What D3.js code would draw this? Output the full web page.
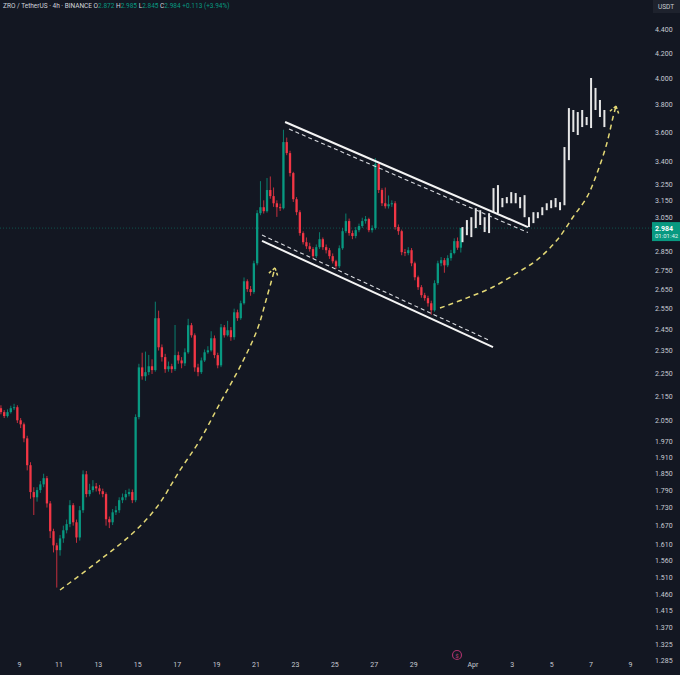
<!DOCTYPE html>
<html>
<head>
<meta charset="utf-8">
<script src="https://cdn.jsdelivr.net/npm/d3@7"></script>
<style>
  body { margin: 0; background: #131722; }
  svg { display: block; font-family: "Roboto", "Liberation Sans", sans-serif; }
</style>
</head>
<body>
<script>
// ZRO/USDT 4h candles, first candle Mar 8 00:00 UTC
var opens = [
  2.100,2.084,2.068,2.084,2.100,2.104,2.051,2.035,1.980,1.879,
  1.783,1.765,1.790,1.810,1.832,1.744,1.652,1.607,1.592,1.629,
  1.655,1.675,1.738,1.681,1.632,1.721,1.846,1.776,1.790,1.803,
  1.796,1.786,1.776,1.691,1.681,1.714,1.721,1.755,1.765,1.776,
  1.783,1.755,2.064,2.274,2.235,2.253,2.279,2.262,2.503,2.365,
  2.320,2.266,2.279,2.266,2.329,2.305,2.292,2.342,2.469,2.421,
  2.274,2.253,2.305,2.342,2.351,2.407,2.329,2.283,2.459,2.421,
  2.445,2.412,2.532,2.503,2.577,2.690,2.649,2.634,2.786,3.072,
  3.108,3.084,3.214,3.176,3.132,3.108,3.102,3.529,3.454,3.322,
  3.157,3.078,2.955,2.903,2.880,2.864,2.825,2.875,2.920,2.875,
  2.858,2.825,2.797,2.770,2.869,2.966,3.025,2.955,2.938,2.972,
  2.996,3.025,3.037,2.972,2.984,3.381,3.214,3.132,3.114,3.126,
  3.132,2.990,2.966,2.847,2.842,2.858,2.786,2.711,2.659,2.618,
  2.603,2.577,2.542,2.680,2.786,2.803,2.775,2.814,2.842,2.909,
  2.872
];
var highs = [
  2.112,2.092,2.095,2.110,2.118,2.112,2.060,2.042,1.990,1.890,
  1.800,1.800,1.822,1.848,1.840,1.752,1.660,1.615,1.640,1.670,
  1.690,1.755,1.745,1.690,1.735,1.860,1.858,1.812,1.825,1.815,
  1.808,1.795,1.782,1.700,1.725,1.735,1.765,1.778,1.790,1.795,
  1.792,2.075,2.290,2.340,2.345,2.330,2.310,2.585,2.540,2.378,
  2.335,2.300,2.290,2.470,2.345,2.320,2.360,2.500,2.480,2.430,
  2.290,2.318,2.355,2.370,2.440,2.420,2.340,2.475,2.470,2.490,
  2.460,2.550,2.545,2.590,2.710,2.700,2.665,2.800,3.090,3.270,
  3.150,3.290,3.300,3.230,3.150,3.130,3.615,3.560,3.470,3.330,
  3.170,3.090,2.965,2.930,2.900,2.875,2.890,2.960,2.930,2.890,
  2.870,2.840,2.805,2.885,2.985,3.070,3.040,2.970,2.990,3.010,
  3.045,3.055,3.045,3.000,3.420,3.395,3.225,3.230,3.180,3.150,
  3.145,3.005,2.975,2.865,2.875,2.870,2.795,2.720,2.670,2.630,
  2.615,2.590,2.695,2.800,2.820,2.815,2.830,2.860,2.925,2.930,
  2.985
];
var lows = [
  2.075,2.060,2.062,2.078,2.092,2.040,2.020,1.965,1.860,1.760,
  1.705,1.750,1.780,1.800,1.730,1.630,1.585,1.480,1.575,1.615,
  1.645,1.665,1.670,1.615,1.622,1.712,1.765,1.768,1.782,1.785,
  1.775,1.765,1.670,1.662,1.672,1.705,1.712,1.745,1.755,1.768,
  1.745,1.748,2.055,2.220,2.215,2.240,2.245,2.255,2.350,2.300,
  2.250,2.255,2.250,2.258,2.290,2.270,2.280,2.335,2.410,2.255,
  2.235,2.245,2.298,2.335,2.345,2.315,2.270,2.275,2.410,2.415,
  2.395,2.400,2.490,2.495,2.570,2.635,2.615,2.625,2.775,3.060,
  3.070,3.075,3.160,3.110,3.050,3.085,3.095,3.440,3.300,3.140,
  3.060,2.940,2.890,2.865,2.850,2.810,2.815,2.865,2.860,2.840,
  2.810,2.785,2.755,2.760,2.860,2.955,2.940,2.920,2.925,2.960,
  2.985,3.010,2.960,2.958,2.975,3.195,3.115,3.100,3.100,3.110,
  2.975,2.945,2.830,2.825,2.830,2.770,2.695,2.645,2.605,2.590,
  2.560,2.520,2.535,2.670,2.770,2.735,2.765,2.800,2.835,2.860,
  2.845
];
var closes = [
  2.084,2.068,2.084,2.100,2.104,2.051,2.035,1.980,1.879,1.783,
  1.765,1.790,1.810,1.832,1.744,1.652,1.607,1.592,1.629,1.655,
  1.675,1.738,1.681,1.632,1.721,1.846,1.776,1.790,1.803,1.796,
  1.786,1.776,1.691,1.681,1.714,1.721,1.755,1.765,1.776,1.783,
  1.755,2.064,2.274,2.235,2.253,2.279,2.262,2.503,2.365,2.320,
  2.266,2.279,2.266,2.329,2.305,2.292,2.342,2.469,2.421,2.274,
  2.253,2.305,2.342,2.351,2.407,2.329,2.283,2.459,2.421,2.445,
  2.412,2.532,2.503,2.577,2.690,2.649,2.634,2.786,3.072,3.108,
  3.084,3.214,3.176,3.132,3.108,3.102,3.529,3.454,3.322,3.157,
  3.078,2.955,2.903,2.880,2.864,2.825,2.875,2.920,2.875,2.858,
  2.825,2.797,2.770,2.869,2.966,3.025,2.955,2.938,2.972,2.996,
  3.025,3.037,2.972,2.984,3.381,3.214,3.132,3.114,3.126,3.132,
  2.990,2.966,2.847,2.842,2.858,2.786,2.711,2.659,2.618,2.603,
  2.577,2.542,2.680,2.786,2.803,2.775,2.814,2.842,2.909,2.872,
  2.984
];

// projected path (white bars pattern)
var projHigh = [2.990,3.031,3.048,3.102,3.090,3.048,3.072,3.226,3.245,3.164,3.170,3.201,3.195,3.170,3.182,3.048,3.078,3.078,3.108,3.132,3.151,3.164,3.139,3.495,3.771,3.757,3.742,3.757,3.706,3.999,3.922,3.831,3.757];
var projLow  = [2.903,2.943,2.932,2.984,3.002,2.961,2.955,3.078,3.072,3.108,3.132,3.132,3.132,3.102,3.048,2.990,3.013,3.042,3.060,3.090,3.102,3.108,3.090,3.120,3.407,3.599,3.578,3.634,3.648,3.627,3.757,3.706,3.634];

// drawings: [days after Mar 9, price]
var leftCurve  = [[2.08,1.473],[4.11,1.562],[5.78,1.646],[7.00,1.732],[8.17,1.861],[9.18,1.973],[10.20,2.121],[11.21,2.276],[12.08,2.446],[12.58,2.609],[12.99,2.761]];
var rightCurve = [[21.36,2.553],[22.73,2.604],[24.05,2.660],[25.27,2.734],[26.28,2.804],[27.30,2.915],[28.11,3.049],[28.82,3.171],[29.33,3.322],[29.83,3.523],[30.14,3.706],[30.29,3.786]];
var upperSolid = [[13.50,3.670],[25.82,2.990]];
var upperDash  = [[13.70,3.620],[25.82,2.958]];
var lowerSolid = [[12.33,2.910],[24.05,2.366]];
var lowerDash  = [[12.33,2.944],[23.80,2.400]];

var yTicks = [4.4,4.2,4.0,3.8,3.6,3.4,3.25,3.15,3.05,2.85,2.75,2.65,2.55,2.45,2.35,2.25,2.15,2.05,1.97,1.91,1.85,1.79,1.73,1.67,1.61,1.56,1.51,1.46,1.415,1.37,1.325,1.285];
var xTickDates = ["2025-03-09","2025-03-11","2025-03-13","2025-03-15","2025-03-17","2025-03-19","2025-03-21","2025-03-23","2025-03-25","2025-03-27","2025-03-29","2025-04-01","2025-04-03","2025-04-05","2025-04-07","2025-04-09"];
var xTickLabels = ["9","11","13","15","17","19","21","23","25","27","29","Apr","3","5","7","9"];

var lastPrice = 2.984;

(function(){
  var width = 680, height = 675;
  var HOUR = 3600e3, DAY = 864e5;
  var t0 = Date.UTC(2025, 2, 8);      // first candle
  var mar9 = Date.UTC(2025, 2, 9);
  var projStart = Date.UTC(2025, 2, 31, 12);
  var projStepHours = 5.4;

  var svg = d3.select("body").append("svg")
    .attr("width", width)
    .attr("height", height);

  svg.append("rect").attr("width", width).attr("height", height).attr("fill", "#131722");

  var x = d3.scaleUtc()
    .domain([new Date(mar9), new Date(Date.UTC(2025, 3, 9))])
    .range([19, 630]);

  var y = d3.scaleLog()
    .domain([1.285, 4.4])
    .range([660, 29]);

  var dayDate = function(d){ return new Date(mar9 + d * DAY); };
  var candleTime = function(i){ return new Date(t0 + (i * 4 + 2) * HOUR); };
  var bodyW = (x(new Date(t0 + 4 * HOUR)) - x(new Date(t0))) * 0.7;

  var plot = svg.append("g");

  // last price line
  plot.append("line")
    .attr("x1", 0).attr("x2", 652)
    .attr("y1", y(lastPrice)).attr("y2", y(lastPrice))
    .attr("stroke", "#089981")
    .attr("stroke-opacity", 0.45)
    .attr("stroke-dasharray", "1,2");

  var candles = d3.range(closes.length).map(function(i){
    return {t: candleTime(i), o: opens[i], h: highs[i], l: lows[i], c: closes[i]};
  });

  var color = function(d){ return d.c >= d.o ? "#089981" : "#f23645"; };

  var cg = plot.selectAll(".candle")
    .data(candles)
    .enter().append("g")
    .attr("class", "candle");

  cg.append("line")
    .attr("x1", function(d){ return x(d.t); })
    .attr("x2", function(d){ return x(d.t); })
    .attr("y1", function(d){ return y(d.h); })
    .attr("y2", function(d){ return y(d.l); })
    .attr("stroke", color)
    .attr("stroke-width", 0.8);

  cg.append("rect")
    .attr("x", function(d){ return x(d.t) - bodyW / 2; })
    .attr("width", bodyW)
    .attr("y", function(d){ return y(Math.max(d.o, d.c)); })
    .attr("height", function(d){ return Math.max(1, Math.abs(y(d.o) - y(d.c))); })
    .attr("fill", color);

  // projected bars
  plot.selectAll(".proj")
    .data(projHigh.map(function(h, i){ return {t: new Date(projStart + i * projStepHours * HOUR), h: h, l: projLow[i]}; }))
    .enter().append("rect")
    .attr("class", "proj")
    .attr("x", function(d){ return x(d.t) - 1; })
    .attr("width", 2)
    .attr("y", function(d){ return y(d.h); })
    .attr("height", function(d){ return y(d.l) - y(d.h); })
    .attr("fill", "#e6e6e6");

  var line = d3.line()
    .x(function(d){ return x(dayDate(d[0])); })
    .y(function(d){ return y(d[1]); });

  // channel
  [[upperSolid, false], [lowerSolid, false], [upperDash, true], [lowerDash, true]].forEach(function(s){
    plot.append("path")
      .datum(s[0])
      .attr("d", line)
      .attr("fill", "none")
      .attr("stroke", s[1] ? "#d8dadf" : "#f4f4f4")
      .attr("stroke-width", s[1] ? 1.1 : 2)
      .attr("stroke-dasharray", s[1] ? "4,3" : null);
  });

  // dashed yellow arrows
  var curve = d3.line()
    .curve(d3.curveCatmullRom)
    .x(function(d){ return x(dayDate(d[0])); })
    .y(function(d){ return y(d[1]); });

  [leftCurve, rightCurve].forEach(function(pts){
    plot.append("path")
      .datum(pts)
      .attr("d", curve)
      .attr("fill", "none")
      .attr("stroke", "#e3d876")
      .attr("stroke-width", 1.5)
      .attr("stroke-dasharray", "5,4");

    var a = pts[pts.length - 2], b = pts[pts.length - 1];
    var ax = x(dayDate(a[0])), ay = y(a[1]), bx = x(dayDate(b[0])), by = y(b[1]);
    var ang = Math.atan2(by - ay, bx - ax) + Math.PI;
    [-0.6, 0.6].forEach(function(k){
      plot.append("line")
        .attr("x1", bx).attr("y1", by)
        .attr("x2", bx + 8 * Math.cos(ang + k))
        .attr("y2", by + 8 * Math.sin(ang + k))
        .attr("stroke", "#e3d876")
        .attr("stroke-width", 1.5)
        .attr("stroke-dasharray", "3,2");
    });
  });

  // right price axis
  var yAxis = d3.axisRight(y)
    .tickValues(yTicks)
    .tickFormat(d3.format(".3f"))
    .tickSize(0)
    .tickPadding(0);

  var ya = svg.append("g")
    .attr("transform", "translate(655,0)")
    .call(yAxis);
  ya.select(".domain").remove();
  ya.selectAll("text")
    .attr("fill", "#c8cbd3")
    .attr("font-size", "7px")
    .attr("font-family", "Roboto, sans-serif");

  // bottom time axis
  var xAxis = d3.axisBottom(x)
    .tickValues(xTickDates.map(function(s){ return d3.utcParse("%Y-%m-%d")(s); }))
    .tickFormat(function(d, i){ return xTickLabels[i]; })
    .tickSize(0)
    .tickPadding(0);

  var xa = svg.append("g")
    .attr("transform", "translate(0,662)")
    .call(xAxis);
  xa.select(".domain").remove();
  xa.selectAll("text")
    .attr("fill", "#c8cbd3")
    .attr("font-size", "7px")
    .attr("font-family", "Roboto, sans-serif");

  // currency box
  svg.append("rect")
    .attr("x", 653).attr("y", 0).attr("width", 27).attr("height", 13)
    .attr("fill", "#1e222d");
  svg.append("text")
    .attr("x", 666).attr("y", 9)
    .attr("text-anchor", "middle")
    .attr("fill", "#c8cbd3")
    .attr("font-size", "6.5px")
    .text("USDT");

  // last price label
  var py = y(lastPrice);
  svg.append("rect")
    .attr("x", 652).attr("y", py - 6).attr("width", 28).attr("height", 19)
    .attr("fill", "#089981");
  svg.append("text")
    .attr("x", 655).attr("y", py + 2.5)
    .attr("fill", "#ffffff")
    .attr("font-size", "7px")
    .attr("font-weight", "bold")
    .text(d3.format(".3f")(lastPrice));
  svg.append("text")
    .attr("x", 655).attr("y", py + 10)
    .attr("fill", "#e0f2ef")
    .attr("font-size", "6px")
    .text("01:01:42");

  // event marker on time axis
  svg.append("circle")
    .attr("cx", 457).attr("cy", 655).attr("r", 4.5)
    .attr("fill", "#131722")
    .attr("stroke", "#a8326b")
    .attr("stroke-width", 1.2);
  svg.append("text")
    .attr("x", 457).attr("y", 657.5)
    .attr("text-anchor", "middle")
    .attr("fill", "#c0407a")
    .attr("font-size", "6px")
    .text("$");

  // header legend
  var hdr = svg.append("text")
    .attr("x", 3).attr("y", 8)
    .attr("font-size", "6.5px")
    .attr("fill", "#d1d4dc");
  hdr.append("tspan").text("ZRO / TetherUS · 4h · BINANCE  ");
  [["O", "2.872"], ["H", "2.985"], ["L", "2.845"], ["C", "2.984"]].forEach(function(p){
    hdr.append("tspan").attr("fill", "#d1d4dc").text(p[0]);
    hdr.append("tspan").attr("fill", "#089981").text(p[1] + " ");
  });
  hdr.append("tspan").attr("fill", "#089981").text("+0.113 (+3.94%)");
})();
</script>
</body>
</html>
